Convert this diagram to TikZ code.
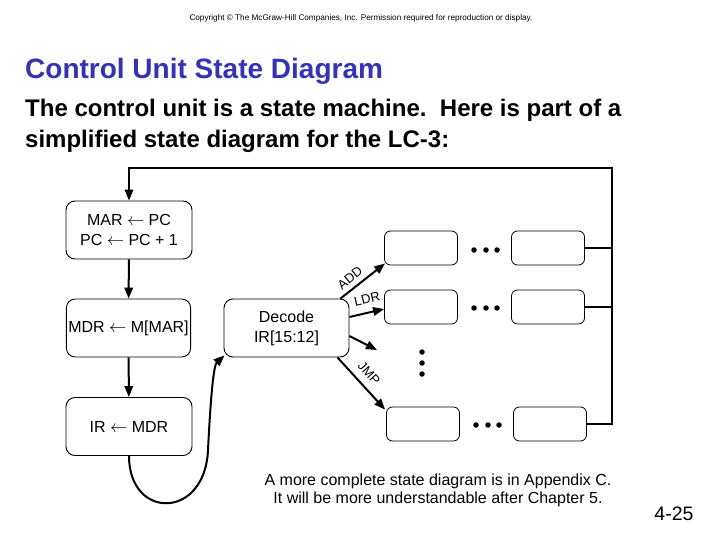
\documentclass[tikz,border=0pt]{standalone}
\usepackage{fontspec}
\setmainfont{Liberation Sans}
\usetikzlibrary{arrows.meta}
\definecolor{titleblue}{RGB}{51,51,180}

\begin{document}
\begin{tikzpicture}[x=1pt, y=-1pt,
    state/.style={draw=black, rounded corners=9pt, line width=0.9pt,
        minimum width=126pt, minimum height=58pt, align=center,
        inner sep=2pt, font=\fontsize{16}{20}\selectfont},
    slot/.style={draw=black, rounded corners=6pt, line width=0.8pt,
        minimum width=73pt, minimum height=34pt},
    flow/.style={line width=2pt, -{Triangle[length=11pt,width=8.5pt]}},
    bus/.style={line width=1.5pt},
    tag/.style={inner sep=0pt, font=\fontsize{13}{14}\selectfont},
    dot/.style={circle, fill=black, inner sep=0pt, minimum size=5.5pt}
]
    \useasboundingbox (0,0) rectangle (720,540);
    \node[font=\fontsize{8.2}{9}\selectfont] (copy) at (361,18) {Copyright \textcopyright{} The McGraw-Hill Companies, Inc.  Permission required for reproduction or display.};
    \node[anchor=base west, inner sep=0pt, text=titleblue, font=\fontsize{28}{32}\selectfont\bfseries] (title) at (25,79) {Control Unit State Diagram};
    \node[anchor=base west, inner sep=0pt, align=left, font=\fontsize{24}{31}\selectfont\bfseries] (intro) at (25,148) {The control unit is a state machine.\ \ Here is part of a\\simplified state diagram for the LC-3:};
    \node[state] (fetch1) at (129,230) {MAR $\leftarrow$ PC\\PC $\leftarrow$ PC + 1};
    \node[state, minimum width=124pt] (fetch2) at (128.5,328) {MDR $\leftarrow$ M[MAR]};
    \node[state] (fetch3) at (129,426.5) {IR $\leftarrow$ MDR};
    \node[state, minimum width=125pt] (decode) at (286.5,328) {Decode\\IR[15:12]};
    \node[slot] (add1) at (421,248) {};
    \node[slot] (add2) at (548,248) {};
    \node[slot] (ldr1) at (421,307) {};
    \node[slot] (ldr2) at (548,307) {};
    \node[slot] (jmp1) at (423,424) {};
    \node[slot] (jmp2) at (550,424) {};
    \node[dot] (adddot1) at (474,250) {};
    \node[dot] (adddot2) at (486,250) {};
    \node[dot] (adddot3) at (497,250) {};
    \node[dot] (ldrdot1) at (474,308) {};
    \node[dot] (ldrdot2) at (486,308) {};
    \node[dot] (ldrdot3) at (497,308) {};
    \node[dot] (jmpdot1) at (476,425) {};
    \node[dot] (jmpdot2) at (488,425) {};
    \node[dot] (jmpdot3) at (499,425) {};
    \node[dot] (vdot1) at (422,352) {};
    \node[dot] (vdot2) at (422,363) {};
    \node[dot] (vdot3) at (422,374) {};
    \coordinate (top) at (612,168);
    \coordinate (other) at (377,350);
    \draw[bus] (add2.east) -- (add2.east -| top);
    \draw[bus] (ldr2.east) -- (ldr2.east -| top);
    \draw[flow] (jmp2.east) -| (top) -| (fetch1.north);
    \draw[flow] (fetch1) -- (fetch2);
    \draw[flow] (fetch2) -- (fetch3);
    \draw[flow] (fetch3.south) .. controls (129,520) and (205,520) .. (208,450)
        .. controls (211,390) and (214,365) .. ([xshift=1pt, yshift=2pt]decode.south west);
    \draw[flow] ([xshift=-9pt]decode.north east) -- ([xshift=1pt, yshift=2pt]add1.south west);
    \draw[flow] ([yshift=11pt]decode.east) -- ([yshift=-2pt]ldr1.west);
    \draw[flow] ([yshift=-8pt]decode.east) -- (other);
    \draw[flow] ([xshift=-12pt]decode.south east) -- ([xshift=-1pt, yshift=-3pt]jmp1.north west);
    \node[tag, rotate=39] (addtag) at (350,278) {ADD};
    \node[tag, rotate=13] (ldrtag) at (367,299) {LDR};
    \node[tag, rotate=-48] (jmptag) at (369,373) {JMP};
    \node[align=center, inner sep=0pt, font=\fontsize{16}{18}\selectfont] (note) at (438,490) {A more complete state diagram is in Appendix C.\\It will be more understandable after Chapter 5.};
    \node[inner sep=0pt, font=\fontsize{19.5}{22}\selectfont] (page) at (674,514) {4-25};
\end{tikzpicture}
\end{document}
